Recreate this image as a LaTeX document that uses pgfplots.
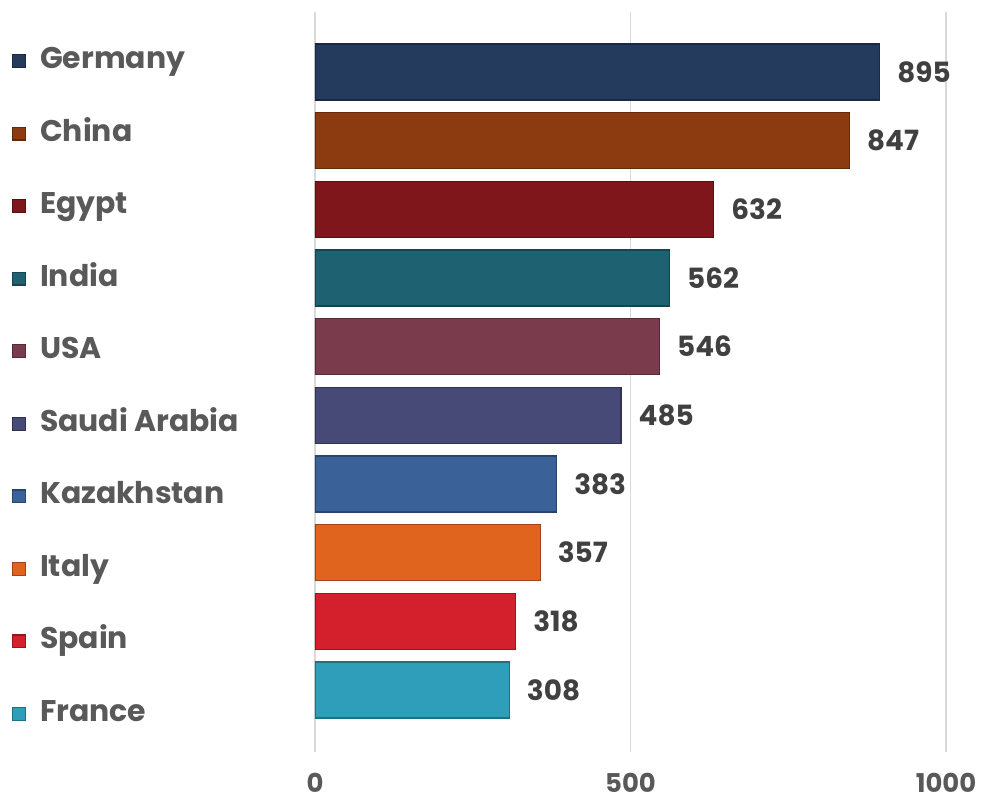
\documentclass[border=0pt]{standalone}
\usepackage{fontspec}
\setmainfont{Poppins}
\usepackage{pgfplots}
\pgfplotsset{compat=1.18}
\definecolor{cGer}{HTML}{243B5E}
\definecolor{cChi}{HTML}{8C3A10}
\definecolor{cEgy}{HTML}{7E161C}
\definecolor{cInd}{HTML}{1E6272}
\definecolor{cUSA}{HTML}{7A3C4D}
\definecolor{cSau}{HTML}{474976}
\definecolor{cKaz}{HTML}{3A6298}
\definecolor{cIta}{HTML}{E0631E}
\definecolor{cSpa}{HTML}{D41F2C}
\definecolor{cFra}{HTML}{2E9EBA}
\definecolor{legtext}{HTML}{595959}
\definecolor{valtext}{HTML}{404040}
\definecolor{gridc}{HTML}{D9D9D9}
\begin{document}
\begin{tikzpicture}
\begin{axis}[
  width=315.5bp, height=370bp, scale only axis,
  xmin=0, xmax=1000, ymin=-0.903, ymax=9.873,
  xtick={0,500,1000}, ytick=\empty,
  xmajorgrids, grid style={gridc, line width=0.8bp},
  major tick length=0pt,
  axis line style={draw=none},
  /pgf/number format/assume math mode=true,
  /pgf/number format/1000 sep={},
  xticklabel style={anchor=center, yshift=-15.5bp, font=\bfseries\fontsize{13}{15}\selectfont, text=legtext},
  bar shift=0pt, bar width=28bp,
  every axis plot/.append style={xbar, line width=0.6bp},
  point meta=x,
  nodes near coords,
  nodes near coords style={anchor=west, inner sep=0pt, xshift=8.5bp, font=\bfseries\fontsize{14}{16}\selectfont, text=valtext},
  legend cell align=left,
  legend image code/.code={\fill[#1] (0bp,-3.2bp) rectangle (6.4bp,3.2bp);},
  legend style={draw=none, fill=none, at={(axis description cs:-0.4900,0.4926)}, anchor=west,
    font=\bfseries\fontsize{15}{18}\selectfont, text=legtext,
    nodes={inner sep=0pt, text height=11bp, text depth=3.5bp},
    row sep=21.78bp, column sep=7bp},
]
\addplot[fill=cGer, draw=cGer!70!black] coordinates {(895,9)};
\addlegendentry{Germany}
\addplot[fill=cChi, draw=cChi!70!black] coordinates {(847,8)};
\addlegendentry{China}
\addplot[fill=cEgy, draw=cEgy!70!black] coordinates {(632,7)};
\addlegendentry{Egypt}
\addplot[fill=cInd, draw=cInd!70!black] coordinates {(562,6)};
\addlegendentry{India}
\addplot[fill=cUSA, draw=cUSA!70!black] coordinates {(546,5)};
\addlegendentry{USA}
\addplot[fill=cSau, draw=cSau!70!black] coordinates {(485,4)};
\addlegendentry{Saudi Arabia}
\addplot[fill=cKaz, draw=cKaz!70!black] coordinates {(383,3)};
\addlegendentry{Kazakhstan}
\addplot[fill=cIta, draw=cIta!70!black] coordinates {(357,2)};
\addlegendentry{Italy}
\addplot[fill=cSpa, draw=cSpa!70!black] coordinates {(318,1)};
\addlegendentry{Spain}
\addplot[fill=cFra, draw=cFra!70!black] coordinates {(308,0)};
\addlegendentry{France}
\end{axis}
\pgfresetboundingbox
\useasboundingbox (-157.5bp,-24bp) rectangle (334bp,376bp);
\end{tikzpicture}
\end{document}
